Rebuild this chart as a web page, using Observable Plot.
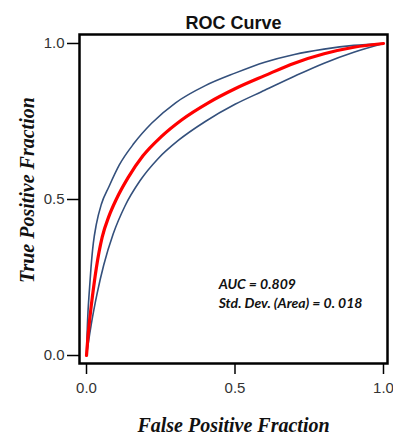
<!DOCTYPE html>
<html>
<head>
<meta charset="utf-8">
<script src="https://cdn.jsdelivr.net/npm/d3@7"></script>
<script src="https://cdn.jsdelivr.net/npm/@observablehq/plot@0.6"></script>
<style>
  html, body { margin: 0; padding: 0; background: #fff; }
  #chart svg { display: block; }
</style>
</head>
<body>
<div id="chart"></div>
<script>
// ROC curve points (FPR, TPR)
const upperFPR = [0, 0.002, 0.005, 0.009, 0.015, 0.023, 0.033, 0.05, 0.075, 0.11, 0.16, 0.22, 0.30, 0.40, 0.50, 0.60, 0.70, 0.80, 0.90, 1.0];
const upperTPR = [0, 0.07, 0.14, 0.20, 0.28, 0.36, 0.42, 0.485, 0.54, 0.61, 0.68, 0.745, 0.81, 0.865, 0.905, 0.94, 0.965, 0.982, 0.994, 1.0];

const rocFPR = [0, 0.004, 0.009, 0.02, 0.033, 0.053, 0.075, 0.10, 0.14, 0.19, 0.25, 0.32, 0.41, 0.50, 0.60, 0.70, 0.80, 0.90, 1.0];
const rocTPR = [0, 0.05, 0.10, 0.19, 0.28, 0.38, 0.445, 0.50, 0.57, 0.64, 0.70, 0.755, 0.81, 0.855, 0.897, 0.937, 0.967, 0.988, 1.0];

const lowerFPR = [0, 0.006, 0.016, 0.036, 0.058, 0.09, 0.13, 0.18, 0.24, 0.31, 0.40, 0.50, 0.60, 0.70, 0.80, 0.90, 1.0];
const lowerTPR = [0, 0.04, 0.10, 0.20, 0.29, 0.39, 0.48, 0.56, 0.63, 0.69, 0.75, 0.805, 0.85, 0.895, 0.937, 0.972, 1.0];

const tickValues = [0, 0.5, 1.0];
const titleText = "ROC Curve";
const xLabel = "False Positive Fraction";
const yLabel = "True Positive Fraction";
const statLines = ["AUC = 0.809", "Std. Dev. (Area) = 0. 018"];
const statX = [0.445, 0.445];
const statY = [0.213, 0.151];

const toPts = (xs, ys) => xs.map((x, i) => ({x, y: ys[i]}));
const upper = toPts(upperFPR, upperTPR);
const roc = toPts(rocFPR, rocTPR);
const lower = toPts(lowerFPR, lowerTPR);
const stats = statLines.map((t, i) => ({t, x: statX[i], y: statY[i]}));

const blue = "#34507c";

const chart = Plot.plot({
  width: 393,
  height: 435,
  marginLeft: 79,
  marginRight: 6,
  marginTop: 34,
  marginBottom: 72,
  style: {fontFamily: "Liberation Sans, Arial, sans-serif", background: "#fff"},
  x: {domain: [-0.0236, 1.0135]},
  y: {domain: [-0.0256, 1.0288]},
  marks: [
    Plot.line(upper, {x: "x", y: "y", stroke: blue, strokeWidth: 1.6, curve: "monotone-x"}),
    Plot.line(lower, {x: "x", y: "y", stroke: blue, strokeWidth: 1.6, curve: "monotone-x"}),
    Plot.line(roc, {x: "x", y: "y", stroke: "#ff0000", strokeWidth: 3.2, curve: "monotone-x"}),
    Plot.frame({stroke: "#000", strokeWidth: 2.5}),
    Plot.axisX({ticks: tickValues, tickFormat: d3.format(".1f"), tickSize: 11, tickPadding: 8,
      fontSize: 15, label: null, stroke: "#000", strokeWidth: 1.5, color: "#333"}),
    Plot.axisY({ticks: tickValues, tickFormat: d3.format(".1f"), tickSize: 12, tickPadding: 3,
      fontSize: 15, label: null, stroke: "#000", strokeWidth: 1.5, color: "#333"}),
    Plot.text([titleText], {frameAnchor: "top", dy: -11, lineAnchor: "middle",
      fontSize: 18, fontWeight: "bold", fill: "#111"}),
    Plot.text([xLabel], {frameAnchor: "bottom", dy: 62, lineAnchor: "middle",
      fontSize: 20, fontWeight: "bold", fontStyle: "italic",
      fontFamily: "Liberation Serif, serif", fill: "#111"}),
    Plot.text([yLabel], {x: [-0.2], y: [0.53], rotate: -90, lineAnchor: "middle",
      fontSize: 20, fontWeight: "bold", fontStyle: "italic",
      fontFamily: "Liberation Serif, serif", fill: "#111"}),
    Plot.text(stats, {x: "x", y: "y", text: "t", textAnchor: "start", lineAnchor: "bottom",
      fontSize: 14, fontWeight: "bold", fontStyle: "italic",
      fontFamily: "Lato, sans-serif", fill: "#111"})
  ]
});
document.getElementById("chart").append(chart);
</script>
</body>
</html>
